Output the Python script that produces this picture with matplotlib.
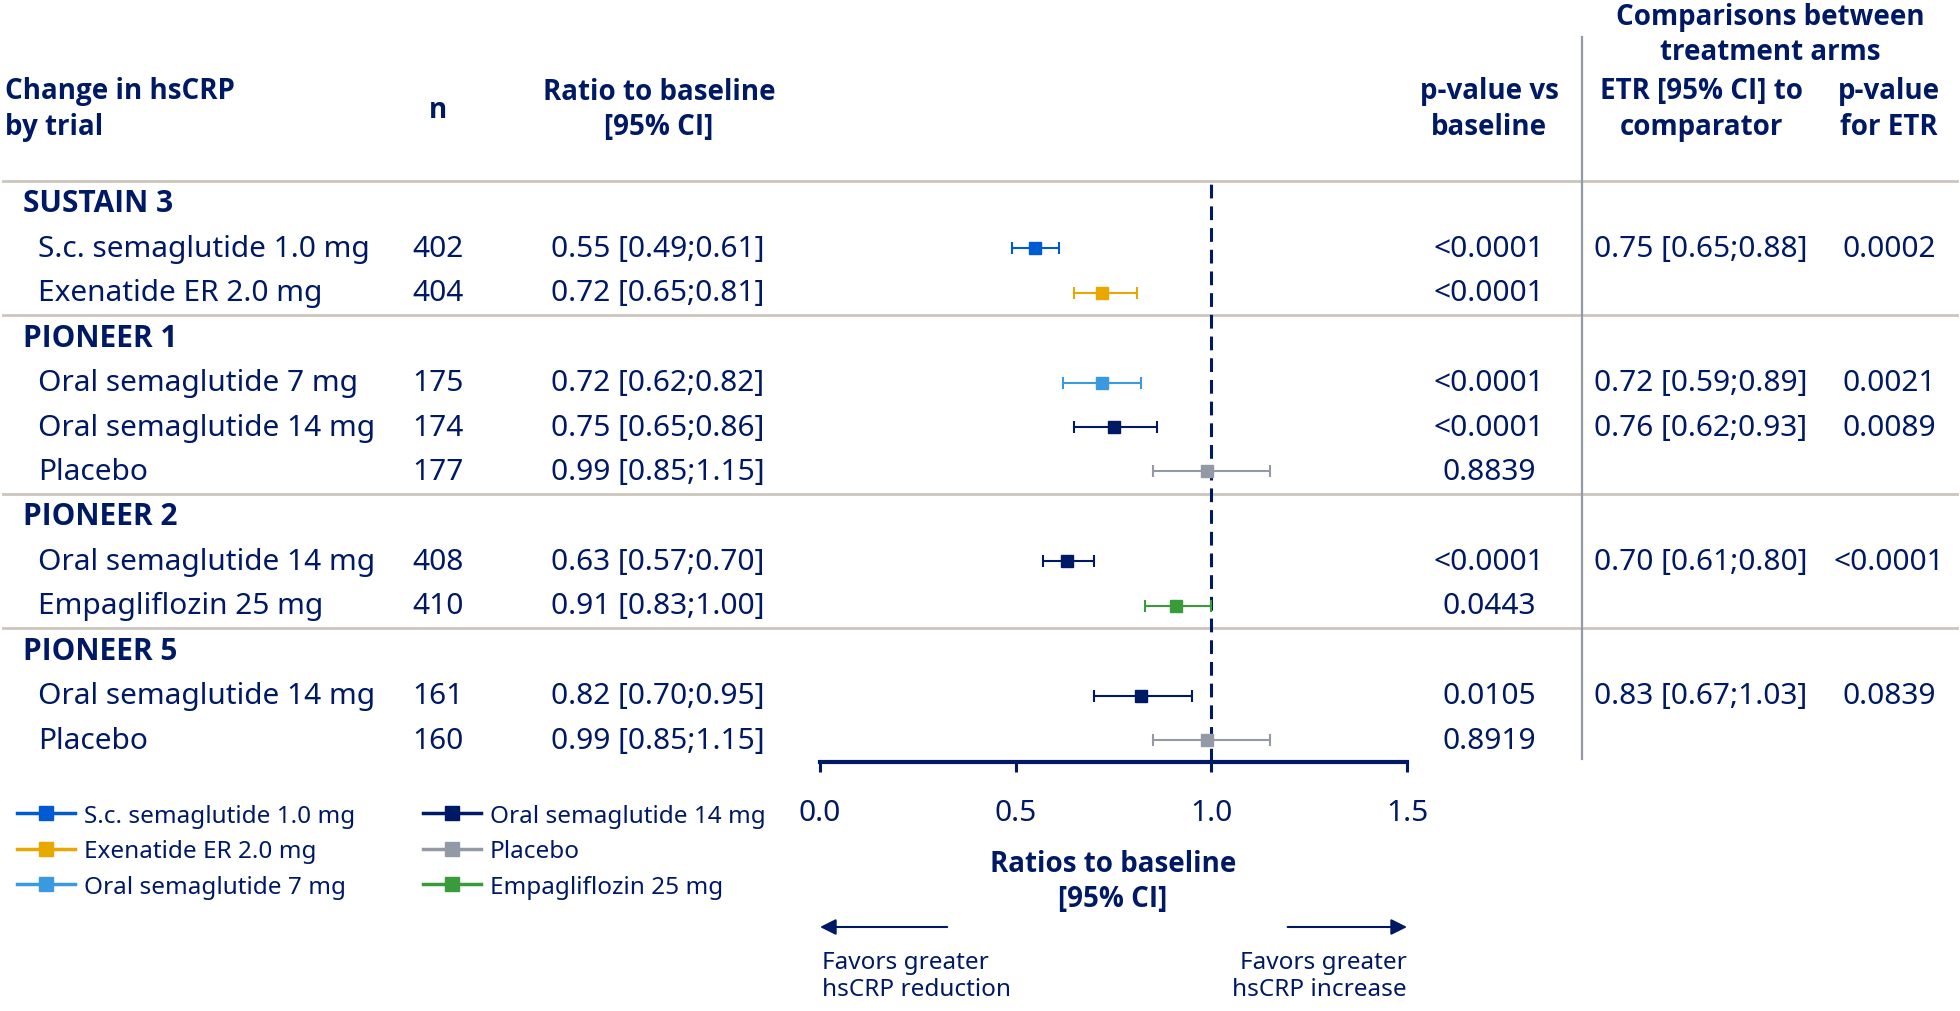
import matplotlib
matplotlib.use('Agg')
import matplotlib.pyplot as plt
from matplotlib.lines import Line2D
from matplotlib.transforms import blended_transform_factory
from matplotlib.ticker import FormatStrFormatter
from matplotlib import font_manager

plt.rcParams['font.family'] = ['Noto Sans', 'DejaVu Sans']

# data
trials = ['SUSTAIN 3', 'PIONEER 1', 'PIONEER 2', 'PIONEER 5']
trial_of_arm = [0, 0, 1, 1, 1, 2, 2, 3, 3]
arms = ['S.c. semaglutide 1.0 mg', 'Exenatide ER 2.0 mg',
        'Oral semaglutide 7 mg', 'Oral semaglutide 14 mg', 'Placebo',
        'Oral semaglutide 14 mg', 'Empagliflozin 25 mg',
        'Oral semaglutide 14 mg', 'Placebo']
n = [402, 404, 175, 174, 177, 408, 410, 161, 160]
ratio = [0.55, 0.72, 0.72, 0.75, 0.99, 0.63, 0.91, 0.82, 0.99]
ci_lo = [0.49, 0.65, 0.62, 0.65, 0.85, 0.57, 0.83, 0.70, 0.85]
ci_hi = [0.61, 0.81, 0.82, 0.86, 1.15, 0.70, 1.00, 0.95, 1.15]
p_baseline = ['<0.0001', '<0.0001', '<0.0001', '<0.0001', '0.8839',
              '<0.0001', '0.0443', '0.0105', '0.8919']
etr = ['0.75 [0.65;0.88]', '', '0.72 [0.59;0.89]', '0.76 [0.62;0.93]', '',
       '0.70 [0.61;0.80]', '', '0.83 [0.67;1.03]', '']
p_etr = ['0.0002', '', '0.0021', '0.0089', '', '<0.0001', '', '0.0839', '']
xticks = [0.0, 0.5, 1.0, 1.5]

legend_order = ['S.c. semaglutide 1.0 mg', 'Exenatide ER 2.0 mg', 'Oral semaglutide 7 mg',
                'Oral semaglutide 14 mg', 'Placebo', 'Empagliflozin 25 mg']
arm_colors = {'S.c. semaglutide 1.0 mg': '#005AD2',
              'Exenatide ER 2.0 mg': '#E8A800',
              'Oral semaglutide 7 mg': '#3B99E0',
              'Oral semaglutide 14 mg': '#001965',
              'Placebo': '#939AA5',
              'Empagliflozin 25 mg': '#3A9B3A'}

navy = '#001965'
sep_col = '#CCC5BD'
W, H = 1960, 1012
fs = 21.5
fs_small = 17.5

# pick a family that really has a bold face
bold_family = 'DejaVu Sans'
for fam in ['Noto Sans', 'Open Sans', 'Lato', 'Roboto']:
    try:
        f = font_manager.findfont(font_manager.FontProperties(family=fam, weight='bold'),
                                  fallback_to_default=False)
        if 'bold' in f.lower():
            bold_family = fam
            break
    except Exception:
        pass

fig = plt.figure(figsize=(W / 100, H / 100), dpi=100)

def fx(px):
    return px / W

def fy(py):
    return 1 - py / H

# forest panel (y in pixel rows from top)
top, bottom = 182, 763
ax = fig.add_axes([fx(820), fy(bottom), fx(1407) - fx(820), (bottom - top) / H])
ax.set_xlim(0, 1.5)
ax.set_ylim(bottom, top)

# row layout
group_y, arm_y, sep_y = [], [], [top]
y = top
for g in range(len(trials)):
    y += 22.25
    group_y.append(y)
    idx = [i for i, t in enumerate(trial_of_arm) if t == g]
    for k, i in enumerate(idx):
        y += 45.25 if k == 0 else 44.2
        arm_y.append(y)
    y += 22.7
    sep_y.append(y)
sep_y = sep_y[:-1]

tr = blended_transform_factory(fig.transFigure, ax.transData)

for i in range(len(arms)):
    c = arm_colors[arms[i]]
    ax.errorbar(ratio[i], arm_y[i], xerr=[[ratio[i] - ci_lo[i]], [ci_hi[i] - ratio[i]]],
                fmt='s', color=c, ms=9, capsize=4.5, elinewidth=1.5, capthick=1.5,
                zorder=3)
    ax.text(fx(38), arm_y[i], arms[i], transform=tr, ha='left', va='center',
            fontsize=fs, color=navy)
    ax.text(fx(438), arm_y[i], str(n[i]), transform=tr, ha='center', va='center',
            fontsize=fs, color=navy)
    ax.text(fx(658), arm_y[i], f'{ratio[i]:.2f} [{ci_lo[i]:.2f};{ci_hi[i]:.2f}]',
            transform=tr, ha='center', va='center', fontsize=fs, color=navy)
    ax.text(fx(1489), arm_y[i], p_baseline[i], transform=tr, ha='center', va='center',
            fontsize=fs, color=navy)
    ax.text(fx(1701), arm_y[i], etr[i], transform=tr, ha='center', va='center',
            fontsize=fs, color=navy)
    ax.text(fx(1889), arm_y[i], p_etr[i], transform=tr, ha='center', va='center',
            fontsize=fs, color=navy)

for g, t in enumerate(trials):
    ax.text(fx(23), group_y[g], t, transform=tr, ha='left', va='center',
            fontsize=fs, color=navy, fontweight='bold', family=bold_family)

for s in sep_y:
    ax.plot([fx(3), fx(1957)], [s, s], transform=tr, color=sep_col, lw=2,
            clip_on=False, zorder=1)

ax.axvline(1.0, color=navy, lw=2.2, ls=(0, (4.5, 2.6)), zorder=2)

# axis styling
for sp in ['left', 'top', 'right']:
    ax.spines[sp].set_visible(False)
ax.spines['bottom'].set_color(navy)
ax.spines['bottom'].set_linewidth(3)
ax.spines['bottom'].set_bounds(0, 1.5)
ax.set_yticks([])
ax.set_xticks(xticks)
ax.xaxis.set_major_formatter(FormatStrFormatter('%.1f'))
ax.tick_params(axis='x', direction='out', length=7, width=2.2, color=navy,
               labelcolor=navy, labelsize=fs, pad=19)
ax.patch.set_alpha(0)

# vertical divider
fig.add_artist(Line2D([fx(1582), fx(1582)], [fy(38), fy(760)], color='#939AA5', lw=1.6))

# headers
def header(x, ys, lines, ha='center', size=20):
    for yy, ln in zip(ys, lines):
        fig.text(fx(x), fy(yy), ln, ha=ha, va='center', fontsize=size,
                 color=navy, fontweight='bold', family=bold_family)

header(5, [92, 128], ['Change in hsCRP', 'by trial'], ha='left')
header(438, [110], ['n'])
header(659, [92, 128], ['Ratio to baseline', '[95% CI]'])
header(1489, [92, 128], ['p-value vs', 'baseline'])
header(1701, [92, 128], ['ETR [95% CI] to', 'comparator'])
header(1889, [92, 128], ['p-value', 'for ETR'])
header(1770, [17, 52], ['Comparisons between', 'treatment arms'])
header(1113, [865, 900], ['Ratios to baseline', '[95% CI]'])

# direction arrows
ax.annotate('', xy=(0, fy(928)), xytext=(0.325, fy(928)),
            xycoords=('data', 'figure fraction'), textcoords=('data', 'figure fraction'),
            arrowprops=dict(arrowstyle='-|>', color=navy, lw=1.5, mutation_scale=24,
                            shrinkA=0, shrinkB=0))
ax.annotate('', xy=(1.5, fy(928)), xytext=(1.195, fy(928)),
            xycoords=('data', 'figure fraction'), textcoords=('data', 'figure fraction'),
            arrowprops=dict(arrowstyle='-|>', color=navy, lw=1.5, mutation_scale=24,
                            shrinkA=0, shrinkB=0))
trb = blended_transform_factory(ax.transData, fig.transFigure)
ax.text(0.005, fy(963), 'Favors greater', transform=trb, ha='left', va='center',
        fontsize=fs_small, color=navy)
ax.text(0.005, fy(990), 'hsCRP reduction', transform=trb, ha='left', va='center',
        fontsize=fs_small, color=navy)
ax.text(1.5, fy(963), 'Favors greater', transform=trb, ha='right', va='center',
        fontsize=fs_small, color=navy)
ax.text(1.5, fy(990), 'hsCRP increase', transform=trb, ha='right', va='center',
        fontsize=fs_small, color=navy)

# legend
handles = [Line2D([], [], color=arm_colors[a], lw=2.5, marker='s', ms=10) for a in legend_order]
leg = fig.legend(handles, legend_order, loc='upper left', bbox_to_anchor=(fx(17), fy(805)),
                 ncol=2, frameon=False, fontsize=fs_small, handlelength=2.4,
                 handletextpad=0.35, labelspacing=0.47, columnspacing=2.8,
                 borderpad=0, borderaxespad=0)
for t in leg.get_texts():
    t.set_color(navy)

fig.savefig('out.png', dpi=100)
